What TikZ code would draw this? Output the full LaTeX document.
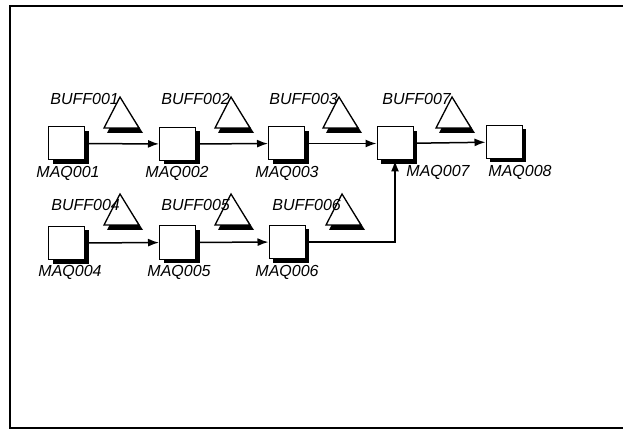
\documentclass[tikz,border=0pt]{standalone}
\usepackage{fontspec}
\setmainfont{Liberation Sans}
\usetikzlibrary{arrows.meta}
\begin{document}
\begin{tikzpicture}[x=1pt,y=-1pt,
  maq/.style={draw=black,line width=1pt,fill=white,minimum width=36pt,minimum height=33pt,inner sep=0pt},
  maqshadow/.style={fill=black,minimum width=36pt,minimum height=33pt,inner sep=0pt},
  lbl/.style={font=\fontsize{16}{16}\selectfont\itshape,inner sep=0pt},
  conn/.style={line width=1.5pt,-{Latex[length=11pt,width=8pt]}},
  pics/buff/.style={code={
    \fill[black] (3,5) -- (-13,36) -- (23,36) -- cycle;
    \draw[line width=1.3pt,fill=white,line join=miter] (0,0) -- (-16,31) -- (19,31) -- cycle;
  }}]
\useasboundingbox (0,0) rectangle (623,430);
% frame
\draw[line width=2pt] (623,6) -- (10,6) -- (10,428) -- (623,428);
% machine shadows
\foreach \x/\y in {66.5/143.5,177.5/144,286.5/143.5,395/143.5,504/142,66.5/243,177.5/242.5,287/242}
  \node[maqshadow] at (\x+4,\y+4) {};
% machines
\node[maq] (m1) at (66.5,143.5) {};
\node[maq] (m2) at (177.5,144) {};
\node[maq] (m3) at (286.5,143.5) {};
\node[maq] (m7) at (395,143.5) {};
\node[maq] (m8) at (504,142) {};
\node[maq] (m4) at (66.5,243) {};
\node[maq] (m5) at (177.5,242.5) {};
\node[maq] (m6) at (287,242) {};
% machine labels
\node[lbl] (l1) at (68,173) {MAQ001};
\node[lbl] (l2) at (177,173) {MAQ002};
\node[lbl] (l3) at (287,173) {MAQ003};
\node[lbl] (l7) at (438,172) {MAQ007};
\node[lbl] (l8) at (520,172) {MAQ008};
\node[lbl] (l4) at (70,272) {MAQ004};
\node[lbl] (l5) at (179,272) {MAQ005};
\node[lbl] (l6) at (287,272) {MAQ006};
% connectors
\draw[conn] (m1) -- (m2);
\draw[conn] (m2) -- (m3);
\draw[conn] (m3) -- (m7);
\draw[conn] (m7) -- (m8);
\draw[conn] (m4) -- (m5);
\draw[conn] (m5) -- (m6);
\coordinate (c6) at (m7.south |- m6.east);
\draw[conn] (m6.east) -- (c6) -- (m7.south);
% buffers
\pic at (120,97) {buff};
\pic at (231,97) {buff};
\pic at (339,97) {buff};
\pic at (452,97) {buff};
\pic at (120,194) {buff};
\pic at (231,194) {buff};
\pic at (342,194) {buff};
\node[lbl,anchor=east] (b1) at (119,99) {BUFF001};
\node[lbl,anchor=east] (b2) at (230,99) {BUFF002};
\node[lbl,anchor=east] (b3) at (338,99) {BUFF003};
\node[lbl,anchor=east] (b7) at (451,99) {BUFF007};
\node[lbl,anchor=east] (b4) at (120,205) {BUFF004};
\node[lbl,anchor=east] (b5) at (230,205) {BUFF005};
\node[lbl,anchor=east] (b6) at (341,205) {BUFF006};
\end{tikzpicture}
\end{document}
